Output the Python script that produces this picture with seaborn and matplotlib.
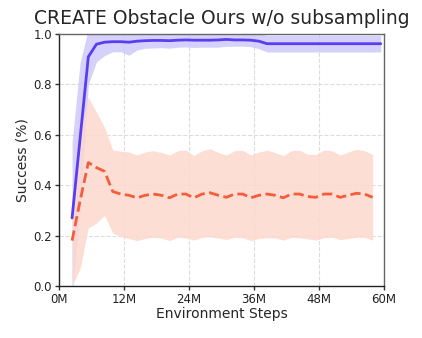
#!/usr/bin/env python
# create_obstacle_curve.py
import numpy as np
import pandas as pd
import seaborn as sns
import matplotlib
matplotlib.use("Agg")
import matplotlib.pyplot as plt
from matplotlib.ticker import FuncFormatter

# environment steps (millions), one log point every 1.5M
steps = [2.4, 3.9, 5.4, 6.9, 8.4, 9.9, 11.4, 12.9, 14.4, 15.9,
         17.4, 18.9, 20.4, 21.9, 23.4, 24.9, 26.4, 27.9, 29.4, 30.9,
         32.4, 33.9, 35.4, 36.9, 38.4, 39.9, 41.4, 42.9, 44.4, 45.9,
         47.4, 48.9, 50.4, 51.9, 53.4, 54.9, 56.4, 57.9, 59.4]

ours_mean = [0.27, 0.59, 0.91, 0.960, 0.968, 0.970, 0.970, 0.968, 0.972, 0.974,
             0.975, 0.975, 0.974, 0.976, 0.977, 0.976, 0.976, 0.976, 0.977, 0.979,
             0.977, 0.977, 0.976, 0.972, 0.962, 0.962, 0.962, 0.962, 0.962, 0.962,
             0.962, 0.962, 0.962, 0.962, 0.962, 0.962, 0.962, 0.962, 0.962]
ours_std = [0.30, 0.30, 0.11, 0.07, 0.053, 0.040, 0.040, 0.052, 0.035, 0.030,
            0.030, 0.029, 0.030, 0.028, 0.028, 0.029, 0.028, 0.028, 0.029, 0.027,
            0.025, 0.025, 0.026, 0.030, 0.033, 0.033, 0.033, 0.033, 0.033, 0.033,
            0.033, 0.033, 0.033, 0.033, 0.033, 0.033, 0.033, 0.033, 0.033]

nosub_mean = [0.18, 0.34, 0.49, 0.47, 0.455, 0.375, 0.365, 0.36, 0.35, 0.36,
              0.365, 0.36, 0.35, 0.365, 0.365, 0.35, 0.365, 0.37, 0.36, 0.352,
              0.365, 0.365, 0.35, 0.36, 0.365, 0.36, 0.35, 0.365, 0.365, 0.355,
              0.352, 0.365, 0.365, 0.352, 0.36, 0.368, 0.365, 0.352]
nosub_std = [0.18, 0.27, 0.26, 0.22, 0.175, 0.165, 0.170, 0.172, 0.170, 0.172,
             0.172, 0.170, 0.170, 0.172, 0.175, 0.168, 0.172, 0.175, 0.170, 0.168,
             0.172, 0.174, 0.170, 0.172, 0.174, 0.170, 0.168, 0.172, 0.174, 0.168,
             0.170, 0.174, 0.172, 0.168, 0.172, 0.175, 0.172, 0.170]

blue = "#5a3cf2"
blue_fill = "#cfc9fb"
orange = "#f45d3b"
orange_fill = "#fdd9ce"

sns.set_theme(style="whitegrid")
plt.rcParams["font.family"] = ["DejaVu Sans"]

fig = plt.figure(figsize=(4.22, 3.38), dpi=100)
ax = fig.add_axes([0.14, 0.154, 0.77, 0.745])

runs = [("ours", steps, ours_mean, ours_std, blue, blue_fill, "-"),
        ("nosub", steps[:len(nosub_mean)], nosub_mean, nosub_std, orange, orange_fill, "--")]

for name, x, m, s, c, fc, ls in runs:
    x = np.array(x) * 1e6
    m = np.array(m)
    s = np.array(s)
    ax.fill_between(x, m - s, m + s, color=fc, alpha=0.85, linewidth=0, zorder=1)

for name, x, m, s, c, fc, ls in runs:
    df = pd.DataFrame({"step": np.array(x) * 1e6, "success": m})
    sns.lineplot(data=df, x="step", y="success", color=c, linestyle=ls,
                 linewidth=2.0, ax=ax, zorder=3)

ax.set_xlim(0, 60e6)
ax.set_ylim(0, 1.0)
ax.set_xticks([0, 12e6, 24e6, 36e6, 48e6, 60e6])
ax.set_yticks([0.0, 0.2, 0.4, 0.6, 0.8, 1.0])
ax.xaxis.set_major_formatter(FuncFormatter(lambda v, p: "%dM" % round(v / 1e6)))
ax.tick_params(axis="both", labelsize=8.5, length=3, width=1, color="#333333",
               labelcolor="#222222", pad=2, direction="out", bottom=True, left=True)

ax.grid(True, linestyle="--", color="#dcdcdc", linewidth=0.8)
ax.set_axisbelow(True)
ax.set_facecolor("white")
for side in ["left", "bottom"]:
    ax.spines[side].set_color("#222222")
    ax.spines[side].set_linewidth(1.0)
for side in ["top", "right"]:
    ax.spines[side].set_color("#666666")
    ax.spines[side].set_linewidth(1.0)

ax.set_title("CREATE Obstacle Ours w/o subsampling", fontsize=13.5, pad=7)
ax.set_xlabel("Environment Steps", fontsize=10, labelpad=1)
ax.set_ylabel("Success (%)", fontsize=10, labelpad=3)

fig.savefig("out.png", dpi=100)
